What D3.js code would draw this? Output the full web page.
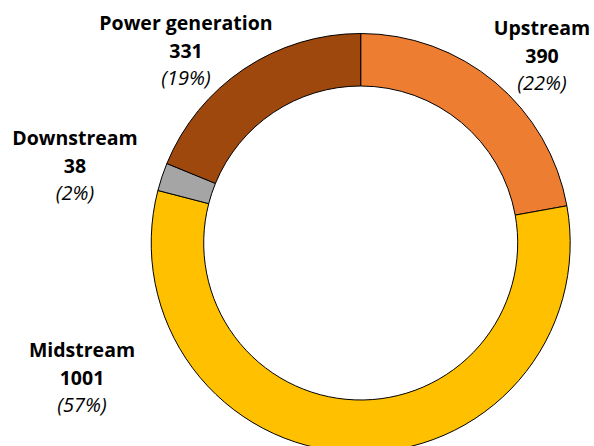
<!DOCTYPE html>
<html><head><meta charset="utf-8">
<script src="https://cdn.jsdelivr.net/npm/d3@7"></script>
<style>
html,body{margin:0;padding:0;background:#fff;}
text{font-family:"Open Sans","Segoe UI",sans-serif;}
</style></head>
<body><svg id="c" width="594" height="446"></svg>
<script>
const categories = ["Upstream", "Midstream", "Downstream", "Power generation"];
const values = [390, 1001, 38, 331];
const percentLabels = ["22%", "57%", "2%", "19%"];
const colors = ["#ED7D31", "#FFC000", "#A5A5A5", "#9E480E"];
// label anchor positions (layout only)
const labelPos = [[542, 35], [82, 357], [75, 145], [186, 30]];

const W = 594, H = 446;
const cx = 360.7, cy = 243, rOuter = 209.5, rInner = 157;
const svg = d3.select("#c");
const g = svg.append("g").attr("transform", `translate(${cx},${cy})`);
const data = categories.map((c, i) => ({ cat: c, value: values[i], pct: percentLabels[i], color: colors[i], pos: labelPos[i] }));
const pie = d3.pie().value(d => d.value).sort(null);
const arc = d3.arc().innerRadius(rInner).outerRadius(rOuter);
g.selectAll("path").data(pie(data)).join("path")
  .attr("d", arc).attr("fill", d => d.data.color)
  .attr("stroke", "#000").attr("stroke-width", 1);

const lab = svg.append("g");
data.forEach(d => {
  const t = lab.append("text").attr("text-anchor", "middle").attr("fill", "#000");
  t.append("tspan").attr("x", d.pos[0]).attr("y", d.pos[1]).attr("font-weight", "bold").attr("font-size", 19.5).text(d.cat);
  t.append("tspan").attr("x", d.pos[0]).attr("y", d.pos[1] + 28).attr("font-weight", "bold").attr("font-size", 19.5).text(d.value);
  t.append("tspan").attr("x", d.pos[0]).attr("y", d.pos[1] + 55).attr("font-style", "italic").attr("font-size", 20).text("(" + d.pct + ")");
});
</script></body></html>
